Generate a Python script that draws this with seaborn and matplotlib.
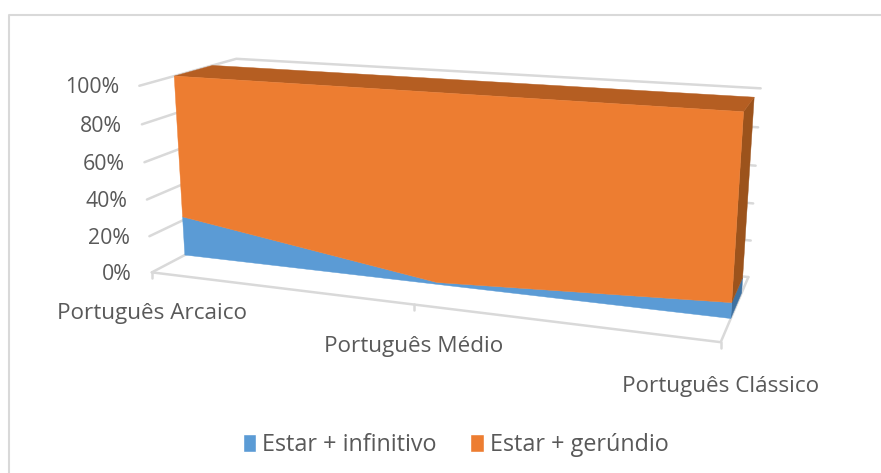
import numpy as np
import matplotlib
matplotlib.use('Agg')
import matplotlib.pyplot as plt
from matplotlib.patches import Patch
import seaborn as sns

categories = ['Português Arcaico', 'Português Médio', 'Português Clássico']
cat_pos = [0.0, 0.5, 1.0]
infinitivo = [22, 1, 8]
gerundio = [78, 99, 92]
y_ticks = [0, 20, 40, 60, 80, 100]
legend_names = ['Estar + infinitivo', 'Estar + gerúndio']

sns.set_theme(style='white')
plt.rcParams['font.family'] = ['Open Sans', 'DejaVu Sans']

BLUE, ORANGE = sns.color_palette(['#5B9BD5', '#ED7D31'])
GRID = '#D9D9D9'
TEXT = '#595959'
Z_FRONT, Z_BACK = 0.33, 0.73

# camera fitted on the corners of the excel 3d box: (x, value, depth) -> pixel
box = np.array([[0, 0, 0], [1, 0, 0], [0, 1, 0], [1, 0, 1], [1, 1, 1], [0, 1, 1],
                [0, 0, Z_FRONT], [0, 1, Z_FRONT], [1, 1, Z_FRONT], [1, 0, Z_FRONT],
                [1, 1, Z_BACK], [0, 1, Z_BACK]], dtype=float)
pix = np.array([[153.3, 271.7], [721, 341.7], [140, 85], [748.3, 276.7], [761, 87.3], [238, 58.3],
                [183.3, 255.7], [172.7, 76.7], [744, 111.7], [730.7, 319.3],
                [753.3, 98.3], [211.7, 66]])
A, b = [], []
for (X, Y, Z), (u, v) in zip(box, pix):
    A.append([X, Y, Z, 1, 0, 0, 0, 0, -u * X, -u * Y, -u * Z])
    A.append([0, 0, 0, 0, X, Y, Z, 1, -v * X, -v * Y, -v * Z])
    b += [u, v]
cam = np.append(np.linalg.lstsq(np.array(A), np.array(b), rcond=None)[0], 1).reshape(3, 4)


def project(x, val, z):
    p = cam @ np.array([x, val / 100, z, 1.0])
    return p[0] / p[2], p[1] / p[2]


def line(pts, color=GRID, lw=1.8):
    xy = np.array([project(*p) for p in pts])
    sns.lineplot(x=xy[:, 0], y=xy[:, 1], sort=False, estimator=None, color=color,
                 linewidth=lw, ax=ax, legend=False)


def face(pts, color):
    ax.fill(*zip(*[project(*p) for p in pts]), color=color, linewidth=0.3, zorder=3)


fig = plt.figure(figsize=(8.81, 4.73), dpi=100)
ax = fig.add_axes([0, 0, 1, 1])
ax.set_xlim(0, 881)
ax.set_ylim(473, 0)
ax.axis('off')

# frame of the pasted chart, cut off at right and bottom
ax.plot([9, 9, 881], [473, 15, 15], color=GRID, lw=1.5)

# walls and floor
for v in y_ticks:
    line([(0, v, 0), (0, v, 1), (1, v, 1)])
    x0, y0 = project(0, v, 0)
    ax.text(x0 - 20, y0 + 2, f'{v}%', ha='right', va='center', color=TEXT, fontsize=15.3)
line([(1, 0, 1), (1, 0, 0), (0, 0, 0)])
for x, name in zip(cat_pos, categories):
    x0, y0 = project(x, 0, 0)
    ax.plot([x0, x0], [y0, y0 + 6], color=GRID, lw=1.8)
    ax.text(x0, y0 + 41 + 3 * x, name, ha='center', va='center', color=TEXT, fontsize=16.2)

# stacked area, back to front
total = [i + g for i, g in zip(infinitivo, gerundio)]
low = [i / t * 100 for i, t in zip(infinitivo, total)]
top = [(i + g) / t * 100 for i, g, t in zip(infinitivo, gerundio, total)]

face([(1, 0, Z_FRONT), (1, low[2], Z_FRONT), (1, low[2], Z_BACK), (1, 0, Z_BACK)], '#3F71A0')
face([(1, low[2], Z_FRONT), (1, top[2], Z_FRONT), (1, top[2], Z_BACK), (1, low[2], Z_BACK)], '#9C531C')
face([(x, t, Z_FRONT) for x, t in zip(cat_pos, top)] + [(x, t, Z_BACK) for x, t in zip(cat_pos[::-1], top[::-1])], '#B55E22')
face([(x, 0, Z_FRONT) for x in cat_pos] + [(x, l, Z_FRONT) for x, l in zip(cat_pos[::-1], low[::-1])], BLUE)
face([(x, l, Z_FRONT) for x, l in zip(cat_pos, low)] + [(x, t, Z_FRONT) for x, t in zip(cat_pos[::-1], top[::-1])], ORANGE)

handles = [Patch(facecolor=BLUE, label=legend_names[0]), Patch(facecolor=ORANGE, label=legend_names[1])]
ax.legend(handles=handles, loc='center', bbox_to_anchor=(455.5 / 881, 1 - 445 / 473), ncol=2, frameon=False,
          fontsize=16.8, labelcolor=TEXT, handlelength=0.58, handleheight=0.78, handletextpad=0.25,
          columnspacing=1.45, borderpad=0)

fig.savefig('out.png', dpi=100)
